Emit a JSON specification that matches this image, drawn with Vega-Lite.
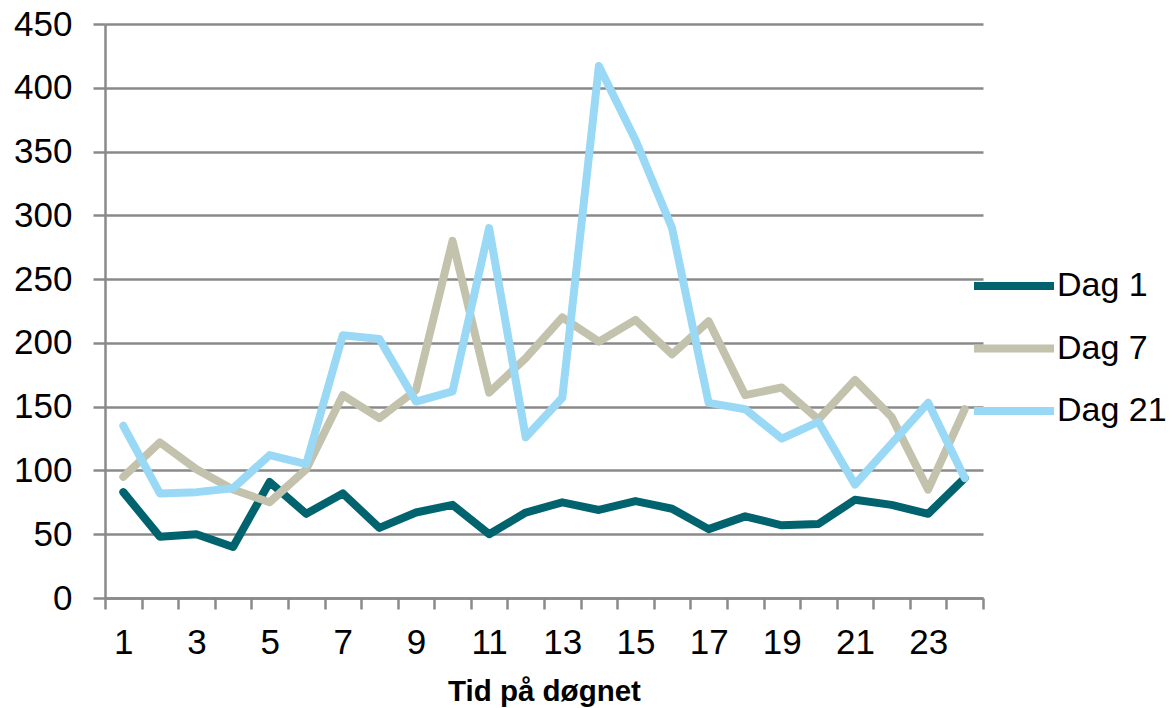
{
  "$schema": "https://vega.github.io/schema/vega-lite/v6.json",
  "width": 878,
  "height": 574,
  "autosize": {"type": "none"},
  "padding": {"left": 105, "top": 24, "right": 192, "bottom": 110},
  "background": "white",
  "config": {
    "view": {"stroke": null},
    "font": "Liberation Sans"
  },
  "data": {
    "values": [
      {"hour": 1, "series": "Dag 1", "value": 83},
      {"hour": 2, "series": "Dag 1", "value": 48},
      {"hour": 3, "series": "Dag 1", "value": 50},
      {"hour": 4, "series": "Dag 1", "value": 40},
      {"hour": 5, "series": "Dag 1", "value": 91},
      {"hour": 6, "series": "Dag 1", "value": 66},
      {"hour": 7, "series": "Dag 1", "value": 82},
      {"hour": 8, "series": "Dag 1", "value": 55},
      {"hour": 9, "series": "Dag 1", "value": 67},
      {"hour": 10, "series": "Dag 1", "value": 73},
      {"hour": 11, "series": "Dag 1", "value": 50},
      {"hour": 12, "series": "Dag 1", "value": 67},
      {"hour": 13, "series": "Dag 1", "value": 75},
      {"hour": 14, "series": "Dag 1", "value": 69},
      {"hour": 15, "series": "Dag 1", "value": 76},
      {"hour": 16, "series": "Dag 1", "value": 70},
      {"hour": 17, "series": "Dag 1", "value": 54},
      {"hour": 18, "series": "Dag 1", "value": 64},
      {"hour": 19, "series": "Dag 1", "value": 57},
      {"hour": 20, "series": "Dag 1", "value": 58},
      {"hour": 21, "series": "Dag 1", "value": 77},
      {"hour": 22, "series": "Dag 1", "value": 73},
      {"hour": 23, "series": "Dag 1", "value": 66},
      {"hour": 24, "series": "Dag 1", "value": 94},
      {"hour": 1, "series": "Dag 7", "value": 95},
      {"hour": 2, "series": "Dag 7", "value": 122},
      {"hour": 3, "series": "Dag 7", "value": 101},
      {"hour": 4, "series": "Dag 7", "value": 85},
      {"hour": 5, "series": "Dag 7", "value": 75},
      {"hour": 6, "series": "Dag 7", "value": 101},
      {"hour": 7, "series": "Dag 7", "value": 159},
      {"hour": 8, "series": "Dag 7", "value": 141},
      {"hour": 9, "series": "Dag 7", "value": 163},
      {"hour": 10, "series": "Dag 7", "value": 280},
      {"hour": 11, "series": "Dag 7", "value": 161},
      {"hour": 12, "series": "Dag 7", "value": 188},
      {"hour": 13, "series": "Dag 7", "value": 220},
      {"hour": 14, "series": "Dag 7", "value": 201},
      {"hour": 15, "series": "Dag 7", "value": 218},
      {"hour": 16, "series": "Dag 7", "value": 191},
      {"hour": 17, "series": "Dag 7", "value": 217},
      {"hour": 18, "series": "Dag 7", "value": 159},
      {"hour": 19, "series": "Dag 7", "value": 165},
      {"hour": 20, "series": "Dag 7", "value": 140},
      {"hour": 21, "series": "Dag 7", "value": 171},
      {"hour": 22, "series": "Dag 7", "value": 142},
      {"hour": 23, "series": "Dag 7", "value": 85},
      {"hour": 24, "series": "Dag 7", "value": 148},
      {"hour": 1, "series": "Dag 21", "value": 135},
      {"hour": 2, "series": "Dag 21", "value": 82},
      {"hour": 3, "series": "Dag 21", "value": 83},
      {"hour": 4, "series": "Dag 21", "value": 86},
      {"hour": 5, "series": "Dag 21", "value": 112},
      {"hour": 6, "series": "Dag 21", "value": 105},
      {"hour": 7, "series": "Dag 21", "value": 206},
      {"hour": 8, "series": "Dag 21", "value": 203},
      {"hour": 9, "series": "Dag 21", "value": 154},
      {"hour": 10, "series": "Dag 21", "value": 162},
      {"hour": 11, "series": "Dag 21", "value": 290},
      {"hour": 12, "series": "Dag 21", "value": 126},
      {"hour": 13, "series": "Dag 21", "value": 157},
      {"hour": 14, "series": "Dag 21", "value": 417},
      {"hour": 15, "series": "Dag 21", "value": 359},
      {"hour": 16, "series": "Dag 21", "value": 290},
      {"hour": 17, "series": "Dag 21", "value": 153},
      {"hour": 18, "series": "Dag 21", "value": 148},
      {"hour": 19, "series": "Dag 21", "value": 125},
      {"hour": 20, "series": "Dag 21", "value": 138},
      {"hour": 21, "series": "Dag 21", "value": 89},
      {"hour": 22, "series": "Dag 21", "value": 121},
      {"hour": 23, "series": "Dag 21", "value": 153},
      {"hour": 24, "series": "Dag 21", "value": 94}
    ]
  },
  "mark": {"type": "line", "strokeWidth": 8, "strokeJoin": "round", "strokeCap": "round"},
  "encoding": {
    "x": {
      "field": "hour",
      "type": "quantitative",
      "scale": {"domain": [0.5, 24.5], "nice": false, "zero": false},
      "axis": {
        "title": "Tid på døgnet",
        "titleFont": "Liberation Sans",
        "titleFontSize": 29.5,
        "titleFontWeight": "bold",
        "titleColor": "#000000",
        "titlePadding": 17,
        "values": [0.5, 1.5, 2.5, 3.5, 4.5, 5.5, 6.5, 7.5, 8.5, 9.5, 10.5, 11.5, 12.5, 13.5, 14.5, 15.5, 16.5, 17.5, 18.5, 19.5, 20.5, 21.5, 22.5, 23.5, 24.5],
        "labelExpr": "((datum.value + 0.5) % 2 == 1 && datum.value < 24) ? format(datum.value + 0.5, 'd') : ''",
        "labelOffset": 18.3,
        "labelFlush": false,
        "labelOverlap": false,
        "labelFont": "Liberation Sans",
        "labelFontSize": 35,
        "labelColor": "#000000",
        "labelPadding": 16,
        "labelAlign": "center",
        "labelBaseline": "top",
        "tickSize": 11,
        "tickWidth": 2.5,
        "tickColor": "#8a8a8a",
        "domainColor": "#8a8a8a",
        "domainWidth": 2.5,
        "grid": false
      }
    },
    "y": {
      "field": "value",
      "type": "quantitative",
      "scale": {"domain": [0, 450], "nice": false},
      "axis": {
        "title": null,
        "values": [0, 50, 100, 150, 200, 250, 300, 350, 400, 450],
        "labelFont": "Liberation Sans",
        "labelFontSize": 35,
        "labelColor": "#000000",
        "labelPadding": 21,
        "labelFlush": false,
        "labelOverlap": false,
        "tickSize": 12,
        "tickWidth": 2.5,
        "tickColor": "#8a8a8a",
        "domainColor": "#8a8a8a",
        "domainWidth": 2.5,
        "grid": true,
        "gridColor": "#8a8a8a",
        "gridWidth": 2.5
      }
    },
    "color": {
      "field": "series",
      "type": "nominal",
      "scale": {
        "domain": ["Dag 1", "Dag 7", "Dag 21"],
        "range": ["#00636d", "#c3c2ad", "#99d9f6"]
      },
      "legend": {
        "title": null,
        "orient": "none",
        "legendX": 875,
        "legendY": 228,
        "padding": 0,
        "symbolType": "M-1.333,0H1.333",
        "symbolSize": 3600,
        "symbolStrokeWidth": 8,
        "symbolOpacity": 1,
        "labelFont": "Liberation Sans",
        "labelFontSize": 34,
        "labelColor": "#000000",
        "labelOffset": 9,
        "rowPadding": 11.5,
        "labelLimit": 300
      }
    },
    "order": {"field": "hour", "type": "quantitative"}
  }
}
